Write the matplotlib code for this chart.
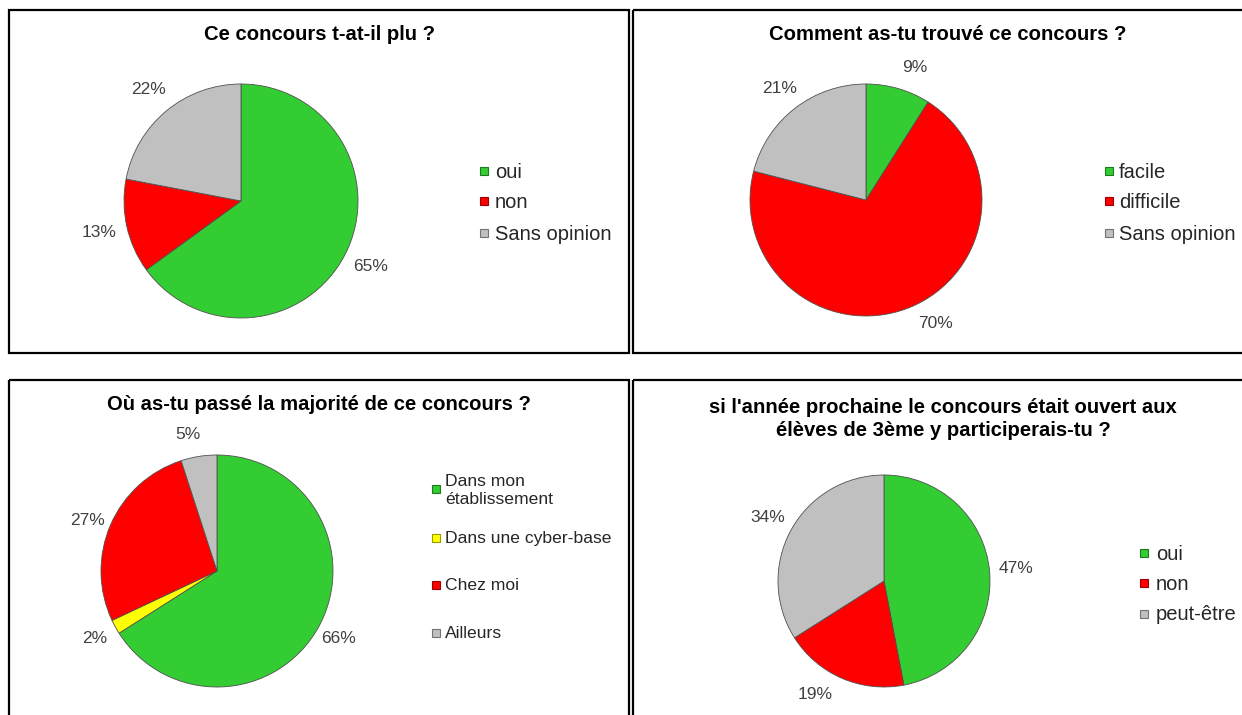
import matplotlib
matplotlib.use("Agg")
import matplotlib.pyplot as plt
from matplotlib.patches import Rectangle
from matplotlib.colors import to_rgb
import numpy as np

W, H = 1242, 715
plt.rcParams['font.family'] = ['Liberation Sans', 'DejaVu Sans']

GREEN, RED, GREY, YELLOW = '#33cc33', '#ff0000', '#c0c0c0', '#ffff00'

# ---- survey results -------------------------------------------------------
q1_title = "Ce concours t-at-il plu ?"
q1_labels = ["oui", "non", "Sans opinion"]
q1_values = [65, 13, 22]
q1_colors = [GREEN, RED, GREY]

q2_title = "Comment as-tu trouvé ce concours ?"
q2_labels = ["facile", "difficile", "Sans opinion"]
q2_values = [9, 70, 21]
q2_colors = [GREEN, RED, GREY]

q3_title = "Où as-tu passé la majorité de ce concours ?"
q3_labels = ["Dans mon\nétablissement", "Dans une cyber-base", "Chez moi", "Ailleurs"]
q3_values = [66, 2, 27, 5]
q3_colors = [GREEN, YELLOW, RED, GREY]

q4_title = "si l'année prochaine le concours était ouvert aux\nélèves de 3ème y participerais-tu ?"
q4_labels = ["oui", "non", "peut-être"]
q4_values = [47, 19, 34]
q4_colors = [GREEN, RED, GREY]

# ---- panel layout (pixels, origin top-left) ------------------------------
panels = [
    dict(title=q1_title, labels=q1_labels, values=q1_values, colors=q1_colors,
         box=(9, 10, 629, 353), title_xy=(319, 34),
         pie=(241, 201, 117), dist=1.24, nudge={},
         leg_sq=480, leg_txt=495, leg_rows=[170, 200, 232], leg_fs=14.5),
    dict(title=q2_title, labels=q2_labels, values=q2_values, colors=q2_colors,
         box=(633, 10, 1265, 353), title_xy=(948, 34),
         pie=(866, 200, 116), dist=1.22, nudge={0: -4, 1: 8},
         leg_sq=1105, leg_txt=1119, leg_rows=[170, 200, 232], leg_fs=14.5),
    dict(title=q3_title, labels=q3_labels, values=q3_values, colors=q3_colors,
         box=(9, 380, 629, 740), title_xy=(319, 404),
         pie=(217, 571, 116), dist=1.2, nudge={3: 3, 2: 2},
         leg_sq=432, leg_txt=445, leg_rows=[488, 537, 584, 632], leg_fs=12.6),
    dict(title=q4_title, labels=q4_labels, values=q4_values, colors=q4_colors,
         box=(633, 380, 1265, 740), title_xy=(943, 419),
         pie=(884, 581, 106), dist=1.25, nudge={1: -8},
         leg_sq=1140, leg_txt=1156, leg_rows=[552, 582, 613], leg_fs=14.5),
]

fig = plt.figure(figsize=(W / 100, H / 100), dpi=100)
fig.patch.set_facecolor('white')

# overlay in pixel coordinates for frames, titles and legends
ov = fig.add_axes([0, 0, 1, 1])
ov.set_xlim(0, W)
ov.set_ylim(H, 0)
ov.axis('off')


def darker(c, f=0.6):
    r, g, b = to_rgb(c)
    return (r * f, g * f, b * f)


for p in panels:
    x0, y0, x1, y1 = p['box']
    ov.add_patch(Rectangle((x0, y0), x1 - x0, y1 - y0, fill=False,
                           edgecolor='black', linewidth=1.6, clip_on=False))
    ov.text(p['title_xy'][0], p['title_xy'][1], p['title'], ha='center', va='center',
            fontsize=14.6, fontweight='bold', color='black', linespacing=1.3)

    # pie
    cx, cy, r = p['pie']
    ax = fig.add_axes([(cx - r) / W, (H - cy - r) / H, 2 * r / W, 2 * r / H])
    pct = [f"{v}%" for v in p['values']]
    wedges, texts = ax.pie(p['values'], colors=p['colors'], startangle=90,
                           counterclock=False, labels=pct,
                           wedgeprops=dict(edgecolor='#505050', linewidth=0.6),
                           textprops=dict(fontsize=12.5, color='#404040'))
    ax.set_xlim(-1, 1)
    ax.set_ylim(-1, 1)
    ax.axis('off')
    for i, (w, t) in enumerate(zip(wedges, texts)):
        ang = np.deg2rad((w.theta1 + w.theta2) / 2 + p['nudge'].get(i, 0))
        t.set_position((p['dist'] * np.cos(ang), p['dist'] * np.sin(ang)))
        t.set_ha('center')
        t.set_va('center')
        t.set_clip_on(False)

    # legend
    sq = 8
    for lab, col, yr in zip(p['labels'], p['colors'], p['leg_rows']):
        ov.add_patch(Rectangle((p['leg_sq'], yr - sq / 2 + 1), sq, sq,
                               facecolor=col, edgecolor=darker(col), linewidth=0.8))
        ov.text(p['leg_txt'], yr, lab, ha='left', va='center_baseline',
                fontsize=p['leg_fs'], color='#262626', linespacing=1.2)

fig.savefig('out.png', dpi=100, facecolor='white')
